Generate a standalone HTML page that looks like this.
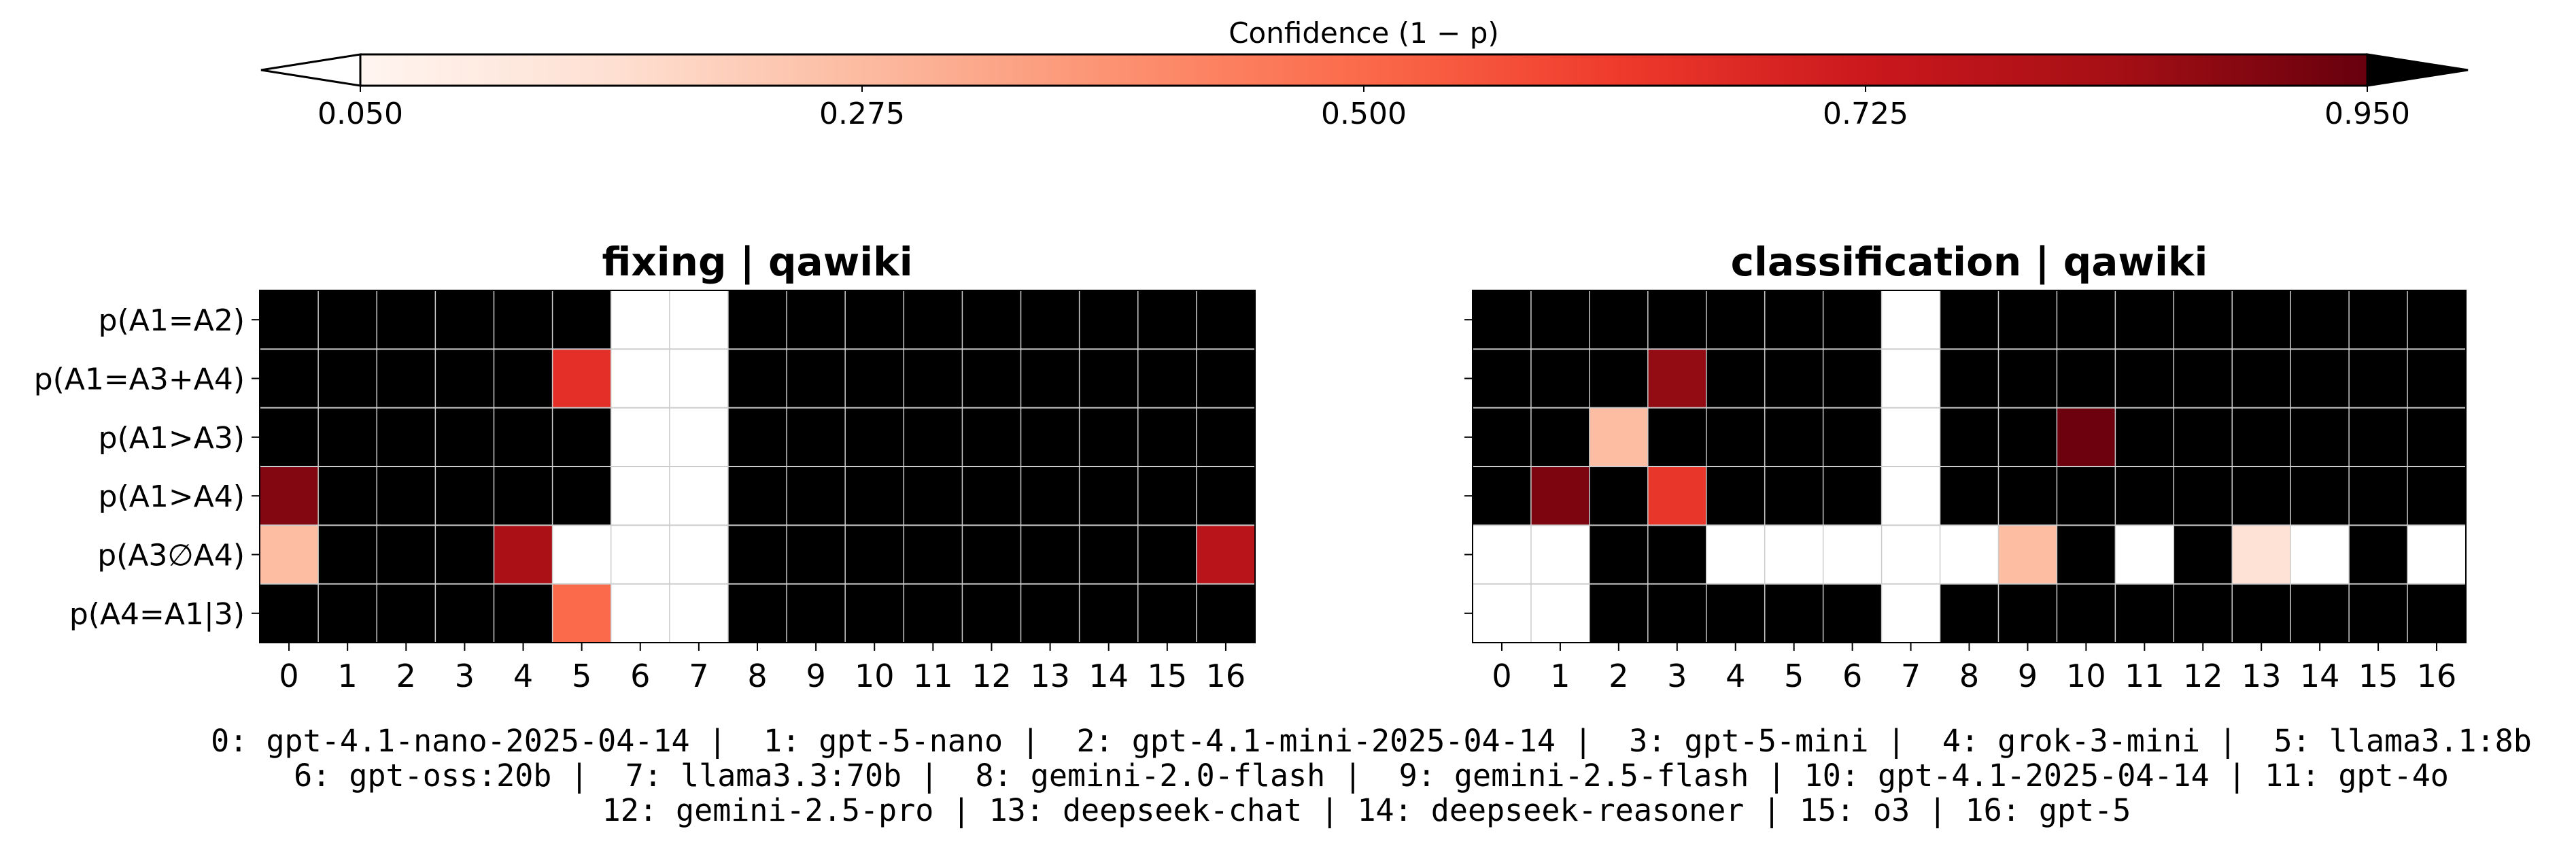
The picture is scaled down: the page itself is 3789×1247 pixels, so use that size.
<!DOCTYPE html>
<html><head><meta charset="utf-8"><style>
html,body{margin:0;padding:0;background:#fff;}
svg{display:block;font-family:"DejaVu Sans","Liberation Sans",sans-serif;}
</style></head><body>
<svg id="fig" width="3789" height="1247" viewBox="0 0 3789 1247" xmlns="http://www.w3.org/2000/svg">
<defs><linearGradient id="reds" x1="0" x2="1" y1="0" y2="0">
<stop offset="0" stop-color="#fff5f0"/><stop offset="0.125" stop-color="#fee0d2"/><stop offset="0.25" stop-color="#fcbba1"/><stop offset="0.375" stop-color="#fc9272"/><stop offset="0.5" stop-color="#fb6a4a"/><stop offset="0.625" stop-color="#ef3b2c"/><stop offset="0.75" stop-color="#cb181d"/><stop offset="0.875" stop-color="#a50f15"/><stop offset="1" stop-color="#67000d"/>
</linearGradient></defs>
<g id="cbar"></g>
<g id="left"></g>
<g id="right"></g>
<g id="legend" font-family="'DejaVu Sans Mono','Liberation Mono',monospace" font-size="45" text-anchor="middle">
<text x="2017" y="1105" xml:space="preserve">0: gpt-4.1-nano-2025-04-14 |  1: gpt-5-nano |  2: gpt-4.1-mini-2025-04-14 |  3: gpt-5-mini |  4: grok-3-mini |  5: llama3.1:8b</text>
<text x="2017" y="1156" xml:space="preserve">6: gpt-oss:20b |  7: llama3.3:70b |  8: gemini-2.0-flash |  9: gemini-2.5-flash | 10: gpt-4.1-2025-04-14 | 11: gpt-4o</text>
<text x="2010" y="1207" xml:space="preserve">12: gemini-2.5-pro | 13: deepseek-chat | 14: deepseek-reasoner | 15: o3 | 16: gpt-5</text>
</g>
</svg>
<script>
const rowLabels = ["p(A1=A2)","p(A1=A3+A4)","p(A1>A3)","p(A1>A4)","p(A3\u2205A4)","p(A4=A1|3)"];
const colLabels = ["0","1","2","3","4","5","6","7","8","9","10","11","12","13","14","15","16"];
const cbarTicks = [0.05,0.275,0.5,0.725,0.95];
const N = null;
// null = black (no data); 0 = below range (white)
const fixingValues = [
[N,N,N,N,N,N,0,0,N,N,N,N,N,N,N,N,N],
[N,N,N,N,N,0.65,0,0,N,N,N,N,N,N,N,N,N],
[N,N,N,N,N,N,0,0,N,N,N,N,N,N,N,N,N],
[0.90,N,N,N,N,N,0,0,N,N,N,N,N,N,N,N,N],
[0.27,N,N,N,0.82,0,0,0,N,N,N,N,N,N,N,N,0.78],
[N,N,N,N,N,0.50,0,0,N,N,N,N,N,N,N,N,N]
];
const classificationValues = [
[N,N,N,N,N,N,N,0,N,N,N,N,N,N,N,N,N],
[N,N,N,0.87,N,N,N,0,N,N,N,N,N,N,N,N,N],
[N,N,0.27,N,N,N,N,0,N,N,0.94,N,N,N,N,N,N],
[N,0.91,N,0.63,N,N,N,0,N,N,N,N,N,N,N,N,N],
[0,0,N,N,0,0,0,0,0,0.27,N,0,N,0.15,0,N,0],
[0,0,N,N,N,N,N,0,N,N,N,N,N,N,N,N,N]
];
const NS="http://www.w3.org/2000/svg";
const stops=["#fff5f0","#fee0d2","#fcbba1","#fc9272","#fb6a4a","#ef3b2c","#cb181d","#a50f15","#67000d"].map(h=>[1,3,5].map(i=>parseInt(h.substr(i,2),16)));
const vmin=0.05,vmax=0.95;
function color(v){
  if(v===null) return "#000000";
  if(v<vmin) return "#ffffff";
  if(v>vmax) return "#000000";
  let t=(v-vmin)/(vmax-vmin)*8; let i=Math.min(7,Math.floor(t)); let f=t-i;
  const c=stops[i].map((a,k)=>Math.round(a+(stops[i+1][k]-a)*f));
  return "rgb("+c.join(",")+")";
}
function mk(tag,attrs,parent){const e=document.createElementNS(NS,tag);for(const k in attrs)e.setAttribute(k,attrs[k]);parent.appendChild(e);return e;}
const cb=document.getElementById('cbar');
const cx0=530,cx1=3482,cy0=80,cy1=126;
const cscale=v=>cx0+(v-vmin)/(vmax-vmin)*(cx1-cx0);
let g=mk('rect',{x:cx0,y:cy0,width:cx1-cx0,height:cy1-cy0,fill:'url(#reds)'},cb);


mk('polygon',{points:`${cx0},${cy0} 384,${(cy0+cy1)/2} ${cx0},${cy1}`,fill:'#fff',stroke:'#000','stroke-width':3},cb);
mk('polygon',{points:`${cx1},${cy0} 3630,${(cy0+cy1)/2} ${cx1},${cy1}`,fill:'#000',stroke:'#000','stroke-width':3},cb);
mk('polyline',{points:`${cx0},${cy0} ${cx1},${cy0}`,stroke:'#000','stroke-width':3,fill:'none'},cb);
mk('polyline',{points:`${cx0},${cy1} ${cx1},${cy1}`,stroke:'#000','stroke-width':3,fill:'none'},cb);
let t=mk('text',{x:2006,y:63,'font-size':42,'text-anchor':'middle'},cb);t.textContent="Confidence (1 \u2212 p)";


cbarTicks.forEach(v=>{
  const x=cscale(v);
  mk('line',{x1:x,x2:x,y1:cy1,y2:cy1+9,stroke:'#000','stroke-width':2},cb);
  const tx=mk('text',{x:x,y:182,'font-size':44,'text-anchor':'middle'},cb);tx.textContent=v.toFixed(3);
  
  
});
function heat(id,vals,x0,x1,title,showY){
  const p=document.getElementById(id);
  const y0=427,y1=945;
  const cw=(x1-x0)/colLabels.length, ch=(y1-y0)/rowLabels.length;
  const tt=mk('text',{x:(x0+x1)/2,y:405,'font-size':58,'font-weight':'bold','text-anchor':'middle'},p);tt.textContent=title;
  
  
  vals.forEach((row,r)=>row.forEach((v,c)=>{
    const rc=mk('rect',{x:x0+c*cw,y:y0+r*ch,width:cw,height:ch,fill:color(v)},p);
    
    
  }));
  for(let c=1;c<colLabels.length;c++) mk('line',{x1:x0+c*cw,x2:x0+c*cw,y1:y0,y2:y1,stroke:'#cccccc','stroke-width':1.5},p);
  for(let r=1;r<rowLabels.length;r++) mk('line',{x1:x0,x2:x1,y1:y0+r*ch,y2:y0+r*ch,stroke:'#cccccc','stroke-width':2},p);
  mk('rect',{x:x0,y:y0,width:x1-x0,height:y1-y0,fill:'none',stroke:'#000','stroke-width':2},p);
  colLabels.forEach((l,c)=>{
    const x=x0+(c+0.5)*cw;
    mk('line',{x1:x,x2:x,y1:y1,y2:y1+12,stroke:'#000','stroke-width':2},p);
    const tx=mk('text',{x:x,y:1010,'font-size':46,'text-anchor':'middle'},p);tx.textContent=l;
    
    
  });
  rowLabels.forEach((l,r)=>{
    const y=y0+(r+0.5)*ch;
    mk('line',{x1:x0-12,x2:x0,y1:y,y2:y,stroke:'#000','stroke-width':2},p);
    if(showY){const tx=mk('text',{x:x0-22,y:y+16,'font-size':44,'text-anchor':'end'},p);tx.textContent=l;
    
    }
  });
}
heat('left',fixingValues,382,1846,'fixing | qawiki',true);
heat('right',classificationValues,2166,3627,'classification | qawiki',false);
</script>
</body></html>
